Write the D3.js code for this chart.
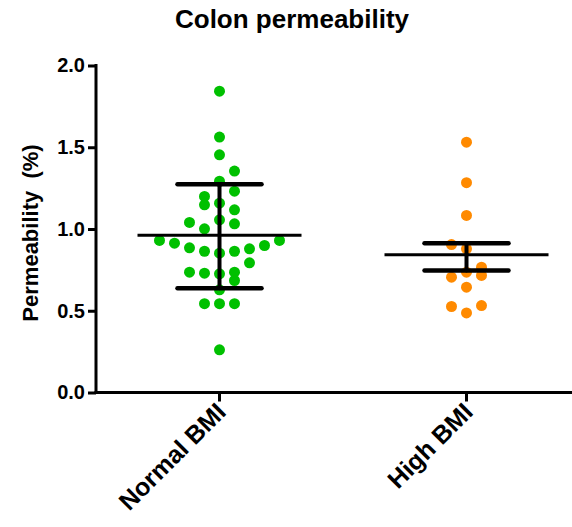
<!DOCTYPE html>
<html>
<head>
<meta charset="utf-8">
<script src="https://cdn.jsdelivr.net/npm/d3@7/dist/d3.min.js"></script>
<style>
  html, body { margin: 0; padding: 0; background: #fff; }
  svg { display: block; }
  text { font-family: "Liberation Sans", Arial, sans-serif; font-weight: bold; }
</style>
</head>
<body>
<svg id="chart" width="572" height="527"></svg>
<script>
// ---- data ----
const categories = ["Normal BMI", "High BMI"];
const colors = ["#00c000", "#ff8a00"];

const normalValues = [1.843, 1.562, 1.454, 1.354, 1.292, 1.231, 1.199, 1.158, 1.148, 1.117,
  1.056, 1.040, 1.032, 1.001,
  0.930, 0.913, 0.885, 0.864, 0.852, 0.864, 0.879, 0.899, 0.930,
  0.793, 0.736, 0.730, 0.726, 0.736, 0.685, 0.628, 0.543, 0.543, 0.543, 0.261];
// beeswarm column of each dot (0 = centre column)
const normalColumn = [0, 0, 0, 1, 0, 1, -1, 0, -1, 1,
  0, -2, 1, -1,
  -4, -3, -2, -1, 0, 1, 2, 3, 4,
  2, -2, -1, 0, 1, 1, 0, -1, 0, 1, 0];

const highValues = [1.531, 1.283, 1.083, 0.905, 0.879, 0.766, 0.736, 0.705, 0.716, 0.644, 0.526, 0.532, 0.487];
const highColumn = [0, 0, 0, -1, 0, 1, 0, -1, 1, 0, -1, 1, 0];

const groupMeans = [0.962, 0.842];
const groupErrLow = [0.638, 0.746];
const groupErrHigh = [1.274, 0.913];

const yTicks = [0.0, 0.5, 1.0, 1.5, 2.0];
const titleText = "Colon permeability";
const yLabel = "Permeability  (%)";

// ---- layout ----
const svg = d3.select("#chart");
const axisX = 96, axisTop = 65.5, axisBottom = 392.5;

const y = d3.scaleLinear().domain([0, 2]).range([axisBottom, axisTop]);
const x = d3.scaleBand().domain(categories).range([axisX, 590]).paddingInner(0).paddingOuter(0);
const colStep = 15;

const groups = [
  { cat: categories[0], values: normalValues, cols: normalColumn, color: colors[0] },
  { cat: categories[1], values: highValues, cols: highColumn, color: colors[1] }
];

// title
svg.append("text")
  .attr("x", 292).attr("y", 28)
  .attr("text-anchor", "middle")
  .attr("font-size", 26)
  .text(titleText);

// y axis
const yAxis = d3.axisLeft(y).tickValues(yTicks).tickFormat(d3.format(".1f")).tickSizeOuter(0).tickSize(8).tickPadding(3);
const gy = svg.append("g").attr("transform", `translate(${axisX},0)`).call(yAxis);
gy.select(".domain").attr("stroke", "#000").attr("stroke-width", 3)
  .attr("d", `M0,${axisTop - 1.5}V${axisBottom}`);
gy.selectAll(".tick line").attr("stroke", "#000").attr("stroke-width", 3);
gy.selectAll(".tick text").attr("fill", "#000").attr("font-size", 20)
  .attr("font-family", '"Liberation Sans", Arial, sans-serif').attr("font-weight", "bold");

// x axis
const xAxis = d3.axisBottom(x).tickSizeOuter(0).tickSize(9).tickFormat("");
const gx = svg.append("g").attr("transform", `translate(0,${axisBottom})`).call(xAxis);
gx.select(".domain").attr("stroke", "#000").attr("stroke-width", 3)
  .attr("d", `M${axisX - 1.5},0H590`);
gx.selectAll(".tick line").attr("stroke", "#000").attr("stroke-width", 3);

// category labels (rotated)
svg.append("g").selectAll("text").data(categories).join("text")
  .attr("transform", d => `translate(${x(d) + x.bandwidth() / 2 + 8},${axisBottom + 21}) rotate(-45)`)
  .attr("text-anchor", "end")
  .attr("font-size", 25)
  .text(d => d);

// y label
svg.append("text")
  .attr("transform", `translate(38,${(axisTop + axisBottom) / 2 + 4}) rotate(-90)`)
  .attr("text-anchor", "middle")
  .attr("font-size", 22)
  .attr("xml:space", "preserve")
  .style("white-space", "pre")
  .text(yLabel);

// dots
groups.forEach(g => {
  const cx = x(g.cat) + x.bandwidth() / 2;
  svg.append("g").selectAll("circle").data(g.values).join("circle")
    .attr("cx", (d, i) => cx + g.cols[i] * colStep)
    .attr("cy", d => y(d))
    .attr("r", 5.5)
    .attr("fill", g.color);
});

// mean and error bars
const ebar = svg.append("g").attr("stroke", "#000").attr("stroke-linecap", "round");
groups.forEach((g, i) => {
  const cx = x(g.cat) + x.bandwidth() / 2;
  ebar.append("line").attr("x1", cx).attr("x2", cx)
    .attr("y1", y(groupErrLow[i])).attr("y2", y(groupErrHigh[i])).attr("stroke-width", 4);
  [groupErrLow[i], groupErrHigh[i]].forEach(v => {
    ebar.append("line").attr("x1", cx - 42).attr("x2", cx + 42)
      .attr("y1", y(v)).attr("y2", y(v)).attr("stroke-width", 4.5);
  });
  ebar.append("line").attr("x1", cx - 82).attr("x2", cx + 82)
    .attr("y1", y(groupMeans[i])).attr("y2", y(groupMeans[i])).attr("stroke-width", 3)
    .attr("stroke-linecap", "butt");
});
</script>
</body>
</html>
